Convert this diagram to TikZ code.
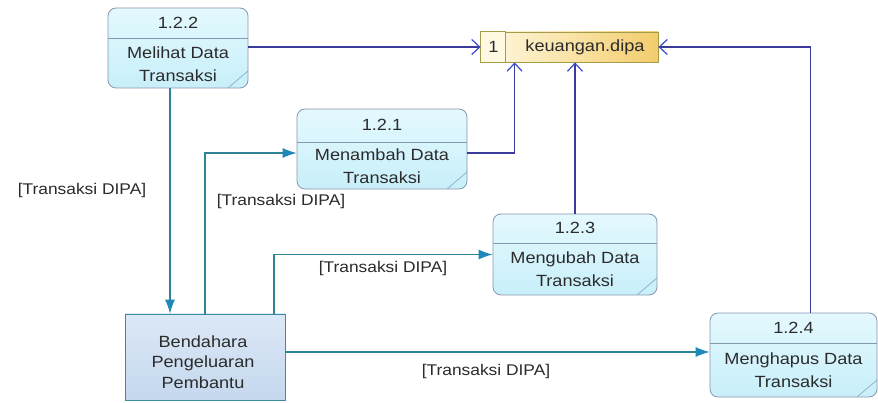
\documentclass[tikz,border=0pt]{standalone}
\usepackage{fontspec}
\setmainfont{Liberation Sans}[FakeStretch=1.12]
\usetikzlibrary{arrows.meta}

\definecolor{procA}{HTML}{E4F9FE}
\definecolor{procB}{HTML}{C8EFFA}
\definecolor{procline}{HTML}{8797AD}
\definecolor{cornerline}{HTML}{8DB4D6}
\definecolor{storeA}{HTML}{FFF9E2}
\definecolor{storeB}{HTML}{F3CD6C}
\definecolor{storeline}{HTML}{A39C4A}
\definecolor{bendA}{HTML}{DCE8F6}
\definecolor{bendB}{HTML}{C4D8EE}
\definecolor{bendline}{HTML}{3D8C9C}
\definecolor{navyline}{HTML}{3B3B9B}
\definecolor{navytip}{HTML}{3A4CCC}
\definecolor{tealline}{HTML}{2E8296}
\definecolor{tealtip}{HTML}{1E88B8}
\definecolor{textc}{HTML}{2B2B2B}

\begin{document}
\begin{tikzpicture}[x = 1pt, y = -1pt,
  proc/.style = {draw = procline, line width = 0.8pt, rounded corners = 8pt,
    top color = procA, bottom color = procB, inner sep = 0pt,
    path picture = {
      \draw [procline, line width = 0.8pt] ([yshift = -#1]path picture bounding box.north west) -- ([yshift = -#1]path picture bounding box.north east);
      \draw [cornerline, line width = 0.8pt] ([xshift = -20pt]path picture bounding box.south east) -- ([yshift = 17pt]path picture bounding box.south east);}},
  proc/.default = 30pt,
  store/.style = {draw = storeline, line width = 0.8pt, left color = storeA, right color = storeB,
    minimum width = 177pt, minimum height = 30pt, inner sep = 0pt},
  storecell/.style = {draw = storeline, line width = 0.8pt, fill = storeA},
  entity/.style = {draw = bendline, line width = 0.8pt, top color = bendA, bottom color = bendB,
    minimum width = 160pt, minimum height = 86pt, inner sep = 0pt},
  txt/.style = {align = center, text = textc, inner sep = 0pt, font = \fontsize{15.5}{21.5}\selectfont},
  boxtxt/.style = {txt, font = \fontsize{16.2}{22.5}\selectfont},
  flow/.style = {draw = navyline, line width = 1.2pt, -{Straight Barb[length = 8pt, width = 15pt, line width = 1.2pt, color = navytip]}},
  data/.style = {draw = tealline, line width = 1.1pt, -{Latex[length = 14pt, width = 10pt, color = tealtip]}}]

\fill [white] (0, 0) rectangle (878, 403);
\useasboundingbox (0, 0) rectangle (878, 403);

% data store
\node [store] (dipa) at (569.5, 47) {};
\draw [storecell] (dipa.north west) rectangle ([xshift = 25pt]dipa.south west);
\node [boxtxt] (dipa-no) at (493.5, 47) {1};
\node [boxtxt] (dipa-txt) at (585, 47) {keuangan.dipa};

% processes
\node [proc = 30pt, minimum width = 140pt, minimum height = 80pt] (p122) at (178, 48) {};
\node [boxtxt] (p122-no) at (178, 23) {1.2.2};
\node [boxtxt] (p122-txt) at (178, 64) {Melihat Data\\Transaksi};

\node [proc = 33pt, minimum width = 170pt, minimum height = 80pt] (p121) at (382, 149) {};
\node [boxtxt] (p121-no) at (382, 125) {1.2.1};
\node [boxtxt] (p121-txt) at (382, 166) {Menambah Data\\Transaksi};

\node [proc = 29pt, minimum width = 164pt, minimum height = 81pt] (p123) at (575, 254.5) {};
\node [boxtxt] (p123-no) at (575, 228) {1.2.3};
\node [boxtxt] (p123-txt) at (575, 269) {Mengubah Data\\Transaksi};

\node [proc = 30pt, minimum width = 167pt, minimum height = 84pt] (p124) at (793.5, 355) {};
\node [boxtxt] (p124-no) at (793.5, 328) {1.2.4};
\node [boxtxt] (p124-txt) at (793.5, 370) {Menghapus Data\\Transaksi};

% external entity
\node [entity] (bend) at (205, 357) {};
\node [boxtxt, font = \fontsize{16.2}{20.5}\selectfont] (bend-txt) at (203, 362) {Bendahara\\Pengeluaran\\Pembantu};

% flows to the data store
\draw [flow] (p122.east |- dipa) -- (dipa.west);
\draw [flow] ([yshift = -4pt]p121.east) -| ([xshift = 34pt]dipa.south west);
\draw [flow] (p123.north) -- (p123.north |- dipa.south);
\draw [flow] ([xshift = 17pt]p124.north) |- (dipa.east);

% flows from the entity
\draw [data] ([xshift = -8pt]p122.south) -- ([xshift = -8pt]p122.south |- bend.north);
\draw [data] (bend.north) |- ([yshift = -4pt]p121.west);
\draw [data] ([xshift = 69pt]bend.north) |- (p123.west);
\draw [data] ([yshift = 5pt]bend.east) -- ([yshift = 5pt]bend.east -| p124.west);

\node [txt] (lbl1) at (82, 190) {[Transaksi DIPA]};
\node [txt] (lbl2) at (281, 201) {[Transaksi DIPA]};
\node [txt] (lbl3) at (383, 268) {[Transaksi DIPA]};
\node [txt] (lbl4) at (486, 371) {[Transaksi DIPA]};
\end{tikzpicture}
\end{document}
